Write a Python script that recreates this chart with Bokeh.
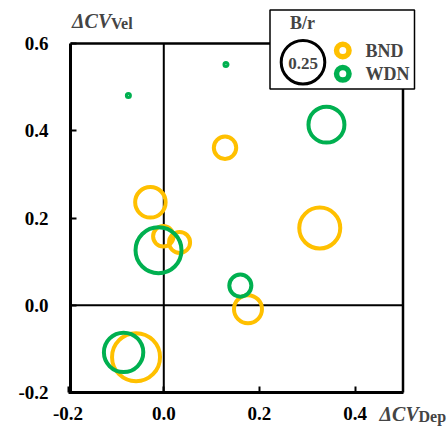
import numpy as np
from bokeh.plotting import figure
from bokeh.models import Range1d, Label, FixedTicker, NumeralTickFormatter
from bokeh.embed import file_html
from bokeh.resources import INLINE

# ---------------- data ----------------
bnd_x = [0.128, -0.028, 0.326, -0.001, 0.033, 0.176, -0.058]
bnd_y = [0.361, 0.236, 0.177, 0.158, 0.144, -0.009, -0.119]
bnd_br = [0.066, 0.122, 0.221, 0.055, 0.058, 0.103, 0.303]

wdn_x = [-0.074, 0.130, 0.340, -0.011, 0.160, -0.084]
wdn_y = [0.481, 0.552, 0.414, 0.126, 0.045, -0.108]
wdn_br = [0.0012, 0.0012, 0.170, 0.278, 0.064, 0.204]

ref_br = 0.25
series_names = ["BND", "WDN"]
x_ticks = [-0.2, 0.0, 0.2, 0.4]
y_ticks = [-0.2, 0.0, 0.2, 0.4, 0.6]
x_lim = (-0.2, 0.5)
y_lim = (-0.2, 0.6)

# ---------------- style ----------------
ORANGE = "#FFC000"
GREEN = "#00B050"
FONT = "Liberation Serif"
REF_PX = 43.6  # diameter (px) of the 0.25 reference bubble


def bubble_px(v):
    return REF_PX * np.sqrt(np.asarray(v, dtype=float) / ref_br)


W, H = 448, 430
# pixel positions of the axis limits inside the canvas
XPX = (67.6, 402.5)
YPX = (392.0, 43.0)
Y_AXIS_PX = 70.0   # where the vertical axis line sits


def dx(sx):
    return x_lim[0] + (sx - XPX[0]) * (x_lim[1] - x_lim[0]) / (XPX[1] - XPX[0])


def dy(sy):
    return y_lim[0] + (sy - YPX[0]) * (y_lim[1] - y_lim[0]) / (YPX[1] - YPX[0])


x_left = dx(Y_AXIS_PX)

# the frame covers the whole canvas; the axes are pinned at the box edges
p = figure(width=W, height=H, output_backend="svg", toolbar_location=None,
           x_range=Range1d(dx(0), dx(W)), y_range=Range1d(dy(H), dy(0)),
           min_border=0)
p.outline_line_color = None
p.grid.visible = False
p.background_fill_color = "white"
p.border_fill_color = "white"

p.xaxis.ticker = FixedTicker(ticks=x_ticks)
p.yaxis.ticker = FixedTicker(ticks=y_ticks)
p.xaxis.formatter = NumeralTickFormatter(format="0.0")
p.yaxis.formatter = NumeralTickFormatter(format="0.0")
p.xaxis.bounds = x_lim
p.yaxis.bounds = y_lim
p.xaxis.fixed_location = y_lim[0]
p.yaxis.fixed_location = x_left
for ax in (p.xaxis[0], p.yaxis[0]):
    ax.axis_line_width = 3
    ax.axis_line_color = "black"
    ax.major_tick_in = 6
    ax.major_tick_out = 0
    ax.major_tick_line_width = 2
    ax.major_tick_line_color = "black"
    ax.minor_tick_line_color = None
    ax.major_label_text_font = FONT
    ax.major_label_text_font_style = "bold"
    ax.major_label_text_font_size = "19px"
    ax.major_label_text_color = "black"
p.xaxis.major_label_standoff = 14
p.yaxis.major_label_standoff = 22

# box top / right edges and zero lines
p.segment(x0=[x_left, x_lim[1]], y0=[y_lim[1], y_lim[0]],
          x1=[x_lim[1], x_lim[1]], y1=[y_lim[1], y_lim[1]],
          line_color="black", line_width=2.5)
p.segment(x0=[0, x_left], y0=[y_lim[0], 0], x1=[0, x_lim[1]], y1=[y_lim[1], 0],
          line_color="black", line_width=2)

# bubbles
p.scatter(bnd_x, bnd_y, size=bubble_px(bnd_br), marker="circle",
          fill_color=None, line_color=ORANGE, line_width=4)
p.scatter(wdn_x, wdn_y, size=bubble_px(wdn_br), marker="circle",
          fill_color=None, line_color=GREEN, line_width=4)

# legend box
p.quad(left=[dx(269.5)], right=[dx(414)], top=[dy(9.5)], bottom=[dy(88.5)],
       fill_color="white", line_color="black", line_width=1.5)
p.scatter([dx(302.5)], [dy(61.7)], size=bubble_px([ref_br]), marker="circle",
          fill_color=None, line_color="black", line_width=3)
p.scatter([dx(342.3)] * 2, [dy(50), dy(73.3)], size=12.5, marker="circle",
          fill_color=None, line_color=[ORANGE, GREEN], line_width=5.5)

p.add_layout(Label(x=dx(302), y=dy(22), text="B/r", text_font=FONT,
                   text_font_style="bold", text_font_size="18px",
                   text_align="center", text_baseline="middle"))
p.add_layout(Label(x=dx(302.5), y=dy(62.5), text=f"{ref_br:.2f}", text_font=FONT,
                   text_font_style="bold", text_font_size="17px",
                   text_align="center", text_baseline="middle"))
for name, sy in zip(series_names, [50, 73]):
    p.add_layout(Label(x=dx(365), y=dy(sy), text=name, text_font=FONT,
                       text_font_style="bold", text_font_size="18px",
                       text_align="left", text_baseline="middle"))

# axis titles (centre line of the big "ΔCV" part)
for sx, sy, sub in [(71.5, 20, "Vel"), (379, 413, "Dep")]:
    p.add_layout(Label(x=dx(sx), y=dy(sy), text="ΔCV", text_font=FONT,
                       text_font_style="bold italic", text_font_size="20px",
                       text_align="left", text_baseline="middle"))
    p.add_layout(Label(x=dx(sx), y=dy(sy), x_offset=39, y_offset=-3, text=sub,
                       text_font=FONT, text_font_style="bold", text_font_size="16px",
                       text_align="left", text_baseline="middle"))

open("out.html", "w").write(file_html(p, INLINE))
